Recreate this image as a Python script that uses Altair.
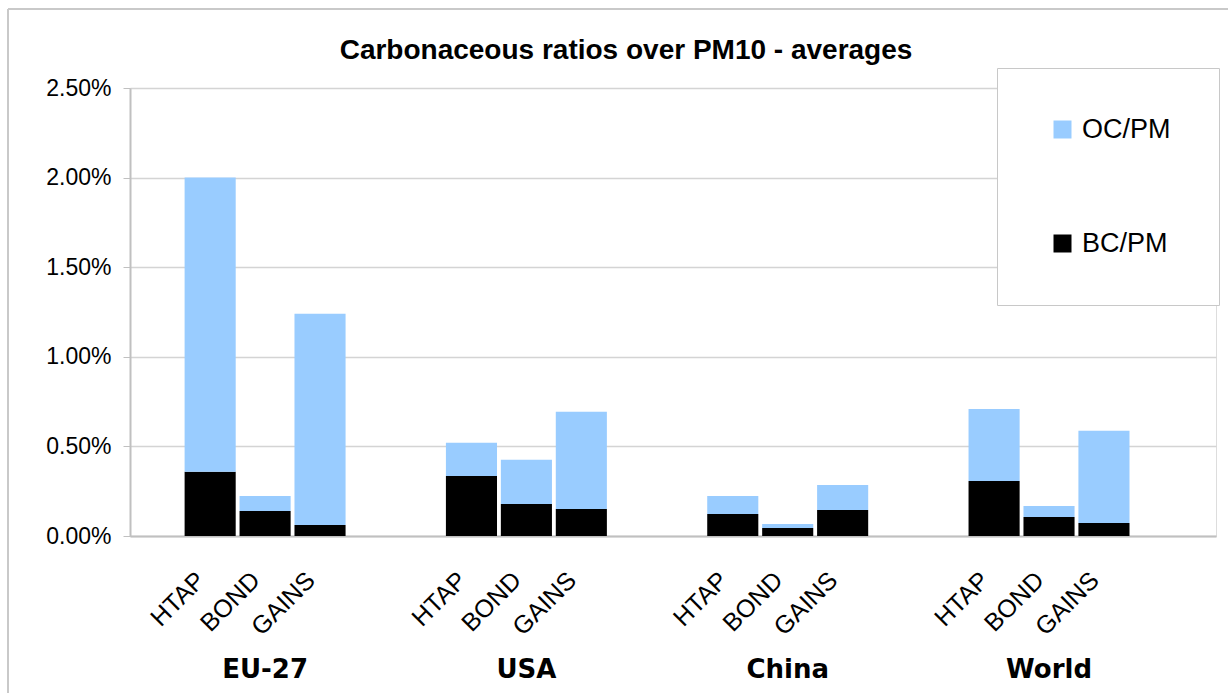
import altair as alt
import pandas as pd

title_text = "Carbonaceous ratios over PM10 - averages"
regions = ["EU-27", "USA", "China", "World"]
models = ["HTAP", "BOND", "GAINS"]
series = ["OC/PM", "BC/PM"]
# values per bar, in order EU-27 (HTAP, BOND, GAINS), USA, China, World
bc_pm = [0.00358, 0.00140, 0.00061,
         0.00335, 0.00179, 0.00151,
         0.00123, 0.00045, 0.00145,
         0.00307, 0.00106, 0.00073]
oc_pm = [0.01642, 0.00083, 0.01179,
         0.00185, 0.00246, 0.00542,
         0.00100, 0.00022, 0.00140,
         0.00402, 0.00062, 0.00514]
y_ticks = [0, 0.005, 0.01, 0.015, 0.02, 0.025]

rows = []
i = 0
for r in regions:
    for m in models:
        rows.append({"region": r, "model": m, "series": "BC/PM", "ord": 0, "value": bc_pm[i]})
        rows.append({"region": r, "model": m, "series": "OC/PM", "ord": 1, "value": oc_pm[i]})
        i += 1
df = pd.DataFrame(rows)

FONT = "Liberation Sans"
GRID = "#D4D4D4"

xscale = alt.Scale(domain=regions, paddingInner=0.384, paddingOuter=0.27, align=0.387)
xoff = alt.Scale(domain=models, paddingInner=0.07, paddingOuter=0)

base = alt.Chart(df)

bars = base.mark_bar(stroke=None).encode(
    x=alt.X("region:N", scale=xscale, sort=regions,
            axis=alt.Axis(title=None, labelAngle=0, ticks=False, grid=False,
                          labelFont="DejaVu Sans", labelFontWeight="bold",
                          labelFontSize=26, labelColor="#000000",
                          labelPadding=120, labelBaseline="top",
                          domainColor="#C0C0C0", domainWidth=2)),
    xOffset=alt.XOffset("model:N", scale=xoff, sort=models),
    y=alt.Y("value:Q", stack="zero",
            scale=alt.Scale(domain=[0, 0.025], nice=False),
            axis=alt.Axis(title=None, format=".2%", values=y_ticks,
                          labelFont=FONT, labelFontSize=23, labelColor="#000000",
                          labelPadding=12, tickSize=7, tickColor="#C0C0C0",
                          domainColor="#C0C0C0", domainWidth=2,
                          gridColor=GRID, gridWidth=1.5)),
    color=alt.Color("series:N", scale=alt.Scale(domain=series, range=["#99CCFF", "#000000"]),
                    legend=alt.Legend(title=None, orient="none", legendX=867, legendY=-20,
                                      direction="vertical",
                                      fillColor="#FFFFFF", strokeColor="#C8C8C8",
                                      padding=48, symbolOffset=4,
                                      symbolType="square", symbolSize=324,
                                      symbolStrokeWidth=0,
                                      labelFont=FONT, labelFontSize=27,
                                      labelColor="#000000", labelOffset=6,
                                      rowPadding=86)),
    order=alt.Order("ord:Q", sort="ascending"),
)

labels = base.transform_filter(alt.datum.series == "BC/PM").mark_text(
    angle=315, align="right", baseline="middle", font=FONT, fontSize=25,
    color="#000000", dx=-13
).encode(
    x=alt.X("region:N", scale=xscale, sort=regions),
    xOffset=alt.XOffset("model:N", scale=xoff, sort=models),
    y=alt.value(479),
    text="model:N",
)

title_mark = alt.Chart(pd.DataFrame({"t": [title_text]})).mark_text(
    font=FONT, fontSize=28, fontWeight="bold", color="#000000",
    align="center", baseline="alphabetic"
).encode(x=alt.value(496), y=alt.value(-29), text="t:N")

frame_top = base.mark_rule(color="#C8C8C8", strokeWidth=1.5).encode(
    x=alt.value(-122), x2=alt.value(1110), y=alt.value(-79))
frame_left = base.mark_rule(color="#C8C8C8", strokeWidth=1.5).encode(
    x=alt.value(-122), y=alt.value(-79), y2=alt.value(620))

chart = alt.layer(frame_top, frame_left, bars, labels, title_mark).properties(
    width=1086, height=448,
    autosize=alt.AutoSizeParams(type="none"),
    padding={"left": 130, "top": 88, "right": 12, "bottom": 157},
).configure_view(stroke="#C0C0C0", strokeWidth=1.5).configure(background="#FFFFFF")

chart.save("out.html", embed_options={"renderer": "svg", "actions": False})
